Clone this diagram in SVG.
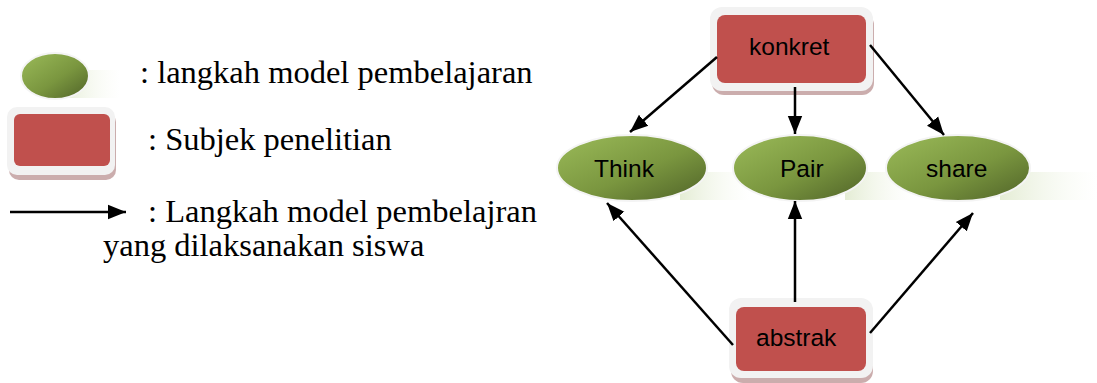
<svg xmlns="http://www.w3.org/2000/svg" width="1097" height="383" viewBox="0 0 1097 383">
<defs>
<linearGradient id="green" x1="0" y1="0" x2="1" y2="1">
<stop offset="0" stop-color="#9bbb59"/>
<stop offset="0.55" stop-color="#7a963f"/>
<stop offset="1" stop-color="#4f6228"/>
</linearGradient>
<linearGradient id="refl" x1="0" y1="0" x2="1" y2="0">
<stop offset="0" stop-color="#d2e0b8" stop-opacity="0.6"/>
<stop offset="1" stop-color="#eef4e2" stop-opacity="0"/>
</linearGradient>
<marker id="arrL" viewBox="0 0 10 10" refX="10" refY="5" markerWidth="18" markerHeight="18" markerUnits="userSpaceOnUse" orient="auto">
<path d="M0,1 L10,5 L0,9 z" fill="#000"/>
</marker>
</defs>
<style>
.frame{fill:#f2f2f2;}
.fshadow{fill:#b58a8a;opacity:0.7;}
.red{fill:#c0504d;}
.ell{fill:url(#green);stroke:#f4f4f4;stroke-width:2;}
.lbl{font-family:"Liberation Sans",Arial,sans-serif;font-size:24.5px;fill:#000;}
.leg{font-family:"Liberation Serif","Times New Roman",serif;font-size:32.5px;fill:#000;}
.conn{stroke:#000;stroke-width:2.5;fill:none;marker-end:url(#arrL);}
</style>

<g id="legend-step">
<rect x="60" y="70" width="60" height="28" fill="url(#refl)"/>
<ellipse class="ell" cx="55" cy="76" rx="34" ry="23"/>
<text class="leg" x="140" y="83">: langkah model pembelajaran</text>
</g>
<g id="legend-subject">
<rect class="fshadow" x="9" y="112" width="107" height="68" rx="10"/>
<rect class="frame" x="7" y="107" width="108" height="68" rx="10"/>
<rect class="red" x="14" y="114" width="96" height="52" rx="6"/>
<text class="leg" x="148" y="150">: Subjek penelitian</text>
</g>
<g id="legend-arrow">
<line x1="10" y1="212" x2="126" y2="212" stroke="#000" stroke-width="2.5" marker-end="url(#arrL)"/>
<text class="leg" x="148" y="222">: Langkah model pembelajran</text>
<text class="leg" x="103" y="256">yang dilaksanakan siswa</text>
</g>

<g id="reflections">
<rect x="680" y="172" width="70" height="28" fill="url(#refl)"/>
<rect x="845" y="172" width="70" height="28" fill="url(#refl)"/>
<rect x="1000" y="172" width="97" height="28" fill="url(#refl)"/>
</g>

<g id="konkret">
<rect class="fshadow" x="712" y="13" width="162" height="82" rx="12"/>
<rect class="frame" x="710" y="7" width="163" height="84" rx="12"/>
<rect class="red" x="717" y="15" width="149" height="68" rx="8"/>
<text class="lbl" x="749" y="55">konkret</text>
</g>

<g id="think">
<ellipse class="ell" cx="632" cy="168" rx="75" ry="33"/>
<text class="lbl" x="594" y="177">Think</text>
</g>
<g id="pair">
<ellipse class="ell" cx="800" cy="168" rx="67" ry="33"/>
<text class="lbl" x="780" y="177">Pair</text>
</g>
<g id="share">
<ellipse class="ell" cx="958" cy="168" rx="72" ry="33"/>
<text class="lbl" x="926" y="177">share</text>
</g>

<g id="abstrak">
<rect class="fshadow" x="731" y="304" width="142" height="79" rx="12"/>
<rect class="frame" x="729" y="298" width="144" height="80" rx="12"/>
<rect class="red" x="736" y="307" width="130" height="64" rx="8"/>
<text class="lbl" x="756" y="346">abstrak</text>
</g>

<g id="connectors">
<line class="conn" x1="717" y1="57" x2="630" y2="132"/>
<line class="conn" x1="795" y1="87" x2="795" y2="134"/>
<line class="conn" x1="870" y1="45" x2="944" y2="135"/>
<line class="conn" x1="733" y1="345" x2="607" y2="203"/>
<line class="conn" x1="795" y1="302" x2="795" y2="201"/>
<line class="conn" x1="870" y1="333" x2="973" y2="213"/>
</g>
</svg>
